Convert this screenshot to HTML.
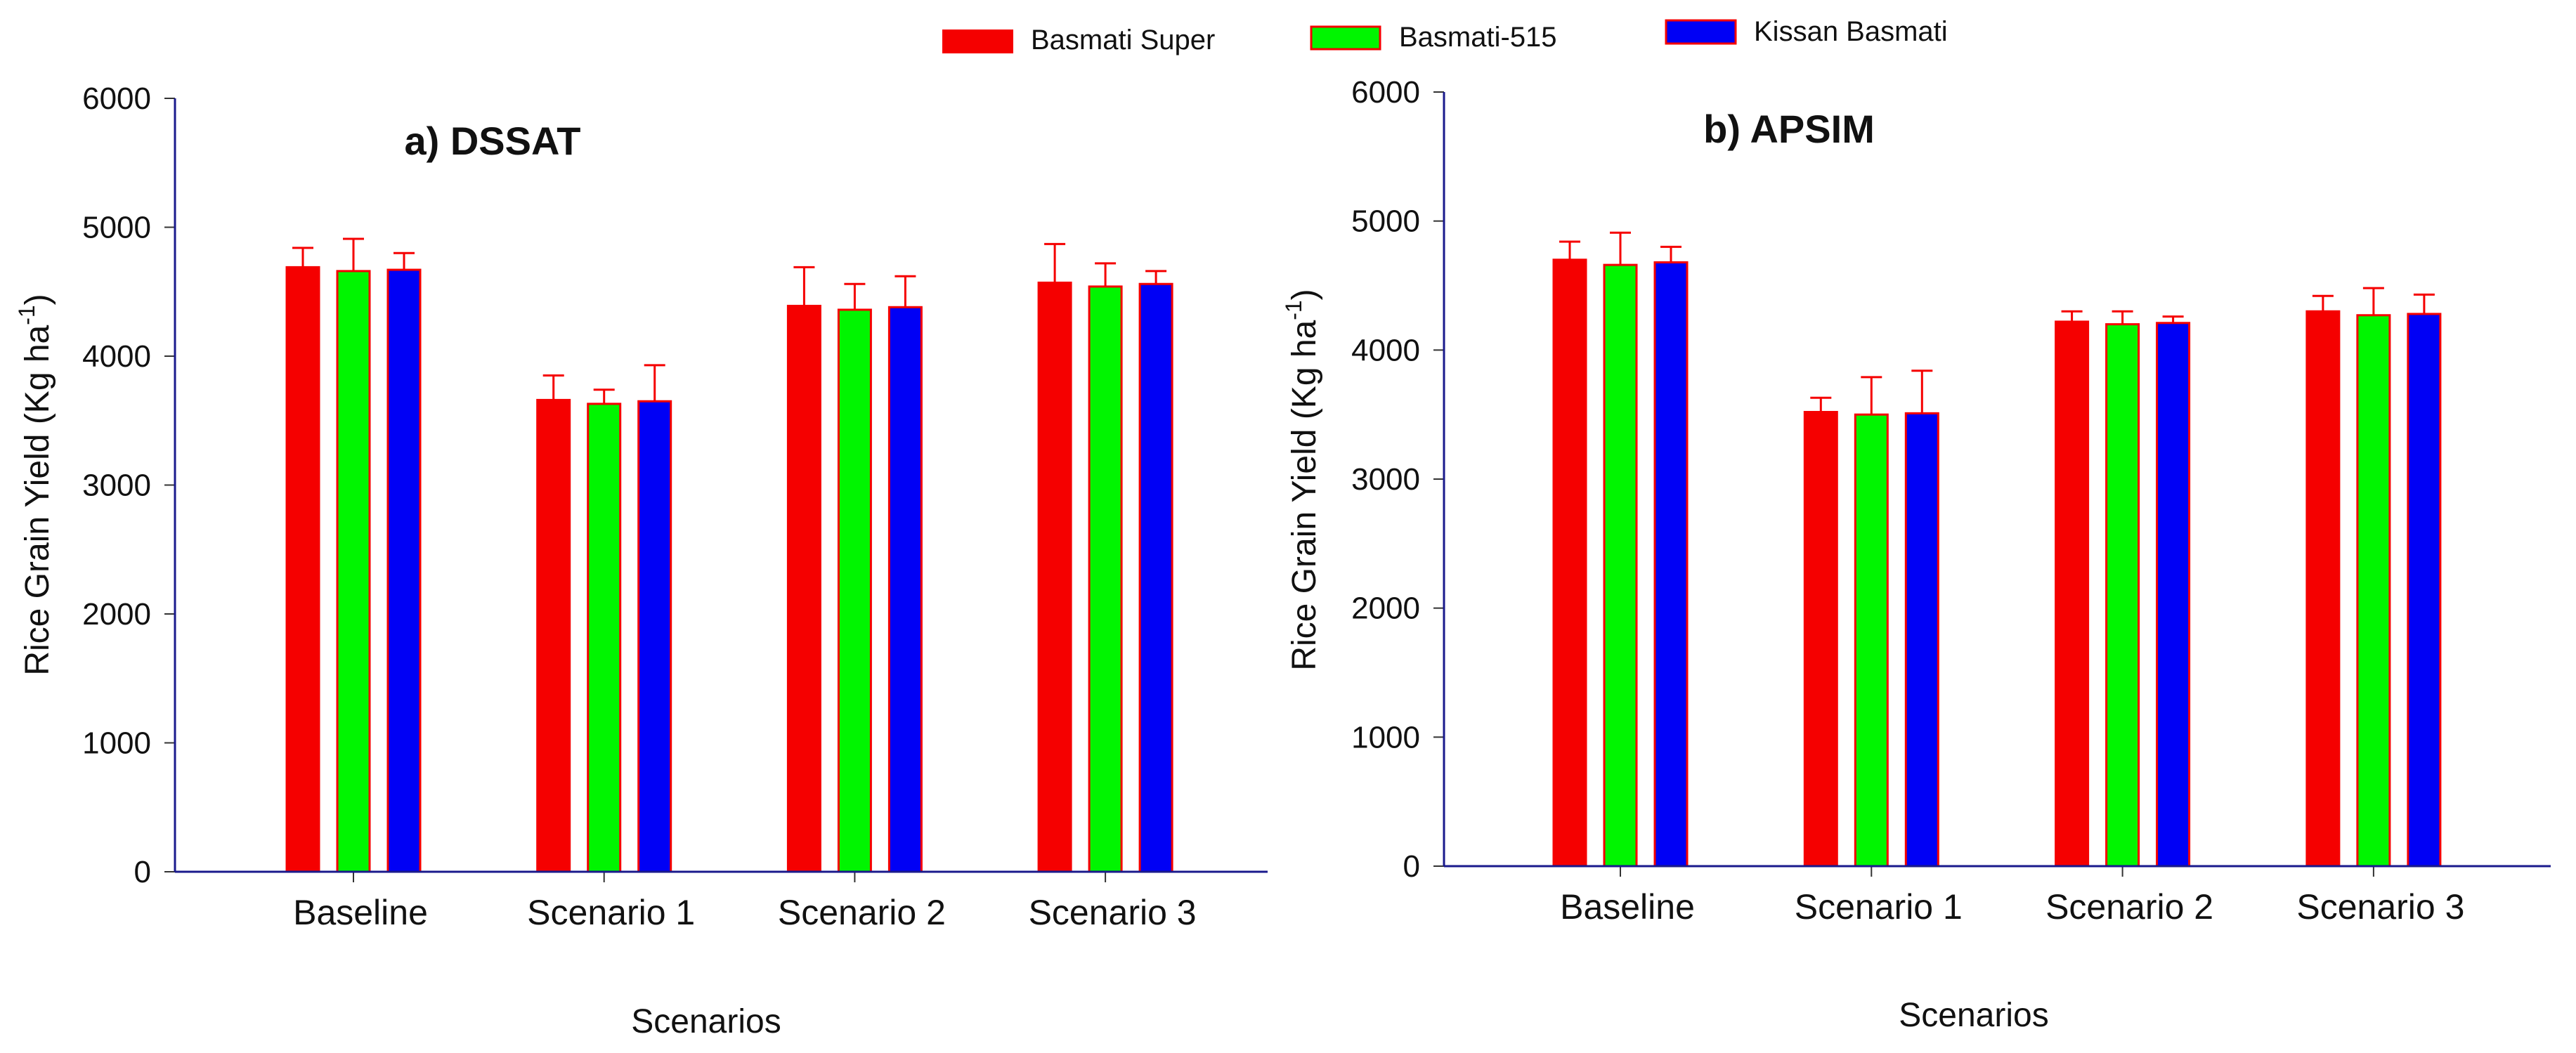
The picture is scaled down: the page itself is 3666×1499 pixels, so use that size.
<!DOCTYPE html>
<html><head><meta charset="utf-8"><style>
html,body{margin:0;padding:0;background:#fff;}
svg{display:block;font-family:"Liberation Sans",Arial,sans-serif;}
</style></head><body>
<svg id="chart" width="3666" height="1499" viewBox="0 0 3666 1499" xmlns="http://www.w3.org/2000/svg">
<g>
 <g><rect x="1342" y="43" width="99" height="32" fill="#f50000" stroke="#f50000" stroke-width="2"/><text x="1467" y="70" font-size="40" fill="#111">Basmati Super</text></g>
 <g><rect x="1866" y="38" width="98" height="32" fill="#00f500" stroke="#f50000" stroke-width="3"/><text x="1991" y="66" font-size="40" fill="#111">Basmati-515</text></g>
 <g><rect x="2371" y="29" width="99" height="33" fill="#0000f5" stroke="#f50000" stroke-width="3"/><text x="2496" y="58" font-size="40" fill="#111">Kissan Basmati</text></g>
</g>
<g id="p0"></g><g id="p1"></g>
</svg>
<script>
const categories = ["Baseline","Scenario 1","Scenario 2","Scenario 3"];
const seriesNames = ["Basmati Super","Basmati-515","Kissan Basmati"];
const dssatSuper = [4690,3660,4390,4570];
const dssat515 = [4660,3630,4360,4540];
const dssatKissan = [4670,3650,4380,4560];
const dssatSuperErr = [4840,3850,4690,4870];
const dssat515Err = [4910,3740,4560,4720];
const dssatKissanErr = [4800,3930,4620,4660];
const apsimSuper = [4700,3520,4220,4300];
const apsim515 = [4660,3500,4200,4270];
const apsimKissan = [4680,3510,4210,4280];
const apsimSuperErr = [4840,3630,4300,4420];
const apsim515Err = [4910,3790,4300,4480];
const apsimKissanErr = [4800,3840,4260,4430];
const yTicks = [0,1000,2000,3000,4000,5000,6000];

const fills = ["#f50000","#00f500","#0000f5"];
const NS = "http://www.w3.org/2000/svg";
function mk(parent, tag, attrs, text){
  const e = document.createElementNS(NS, tag);
  for (const k in attrs) e.setAttribute(k, attrs[k]);
  if (text !== undefined) e.textContent = text;
  parent.appendChild(e); return e;
}
const panels = [
  {g:"p0", name:"dssat", title:"a) DSSAT", ax:249, axEnd:1804, y0:1241, y6:140, cat0:503, catStep:356.7,
   titleX:701, titleY:220, ytX:53, ytY:690, xtX:1005, xtY:1470,
   vals:[dssatSuper,dssat515,dssatKissan], errs:[dssatSuperErr,dssat515Err,dssatKissanErr]},
  {g:"p1", name:"apsim", title:"b) APSIM", ax:2055, axEnd:3630, y0:1233, y6:131, cat0:2306, catStep:357.3,
   titleX:2546, titleY:203, ytX:1856, ytY:683, xtX:2809, xtY:1461,
   vals:[apsimSuper,apsim515,apsimKissan], errs:[apsimSuperErr,apsim515Err,apsimKissanErr]}
];
const axisCol = "#1a1a8c";
panels.forEach(p => {
  const g = document.getElementById(p.g);
  
  
  const y = v => p.y0 - (v/6000)*(p.y0 - p.y6);
  const x = i => p.cat0 + i*p.catStep;
  // bars
  categories.forEach((c, ci) => {
    for (let s = 0; s < 3; s++) {
      const cx = x(ci) + (s-1)*72;
      const v = p.vals[s][ci], e = p.errs[s][ci];
      const bar = mk(g, 'rect', {x: cx-23, y: y(v), width: 46, height: p.y0 - y(v), fill: fills[s], stroke: '#f50000', 'stroke-width': 3});
      
      
      const eb = mk(g, 'path', {d: `M${cx} ${y(v)}V${y(e)}M${cx-15} ${y(e)}H${cx+15}`, stroke: '#f50000', 'stroke-width': 3, fill: 'none'});
      
      
    }
    const tk = mk(g, 'line', {x1: x(ci), x2: x(ci), y1: p.y0, y2: p.y0+15, stroke: '#333', 'stroke-width': 2});
    
    
    const lb = mk(g, 'text', {x: x(ci)+10, y: p.y0+75, 'font-size': 50, 'text-anchor': 'middle', fill: '#111'}, c);
    
    
  });
  yTicks.forEach(t => {
    const tk = mk(g, 'line', {x1: p.ax-15, x2: p.ax, y1: y(t), y2: y(t), stroke: '#333', 'stroke-width': 2});
    
    
    const lb = mk(g, 'text', {x: p.ax-34, y: y(t)+15, 'font-size': 44, 'text-anchor': 'end', fill: '#111'}, String(t));
    
    
  });
  const ya = mk(g, 'line', {x1: p.ax, x2: p.ax, y1: p.y6, y2: p.y0, stroke: axisCol, 'stroke-width': 3});
  
  
  const xa = mk(g, 'line', {x1: p.ax, x2: p.axEnd, y1: p.y0, y2: p.y0, stroke: axisCol, 'stroke-width': 3});
  
  
  const tt = mk(g, 'text', {x: p.titleX, y: p.titleY, 'font-size': 56, 'font-weight': 'bold', 'text-anchor': 'middle', fill: '#111'}, p.title);
  
  
  const xt = mk(g, 'text', {x: p.xtX, y: p.xtY, 'font-size': 48, 'text-anchor': 'middle', fill: '#111'}, 'Scenarios');
  
  
  const yt = mk(g, 'text', {x: 0, y: 0, 'font-size': 48, 'text-anchor': 'middle', fill: '#111', transform: `translate(${p.ytX + 16},${p.ytY}) rotate(-90)`});
  
  
  yt.appendChild(document.createTextNode('Rice Grain Yield (Kg ha'));
  const sup = mk(yt, 'tspan', {dy: -20, 'font-size': 32}, '-1');
  const cl = mk(yt, 'tspan', {dy: 20}, ')');
});
</script>
</body></html>
